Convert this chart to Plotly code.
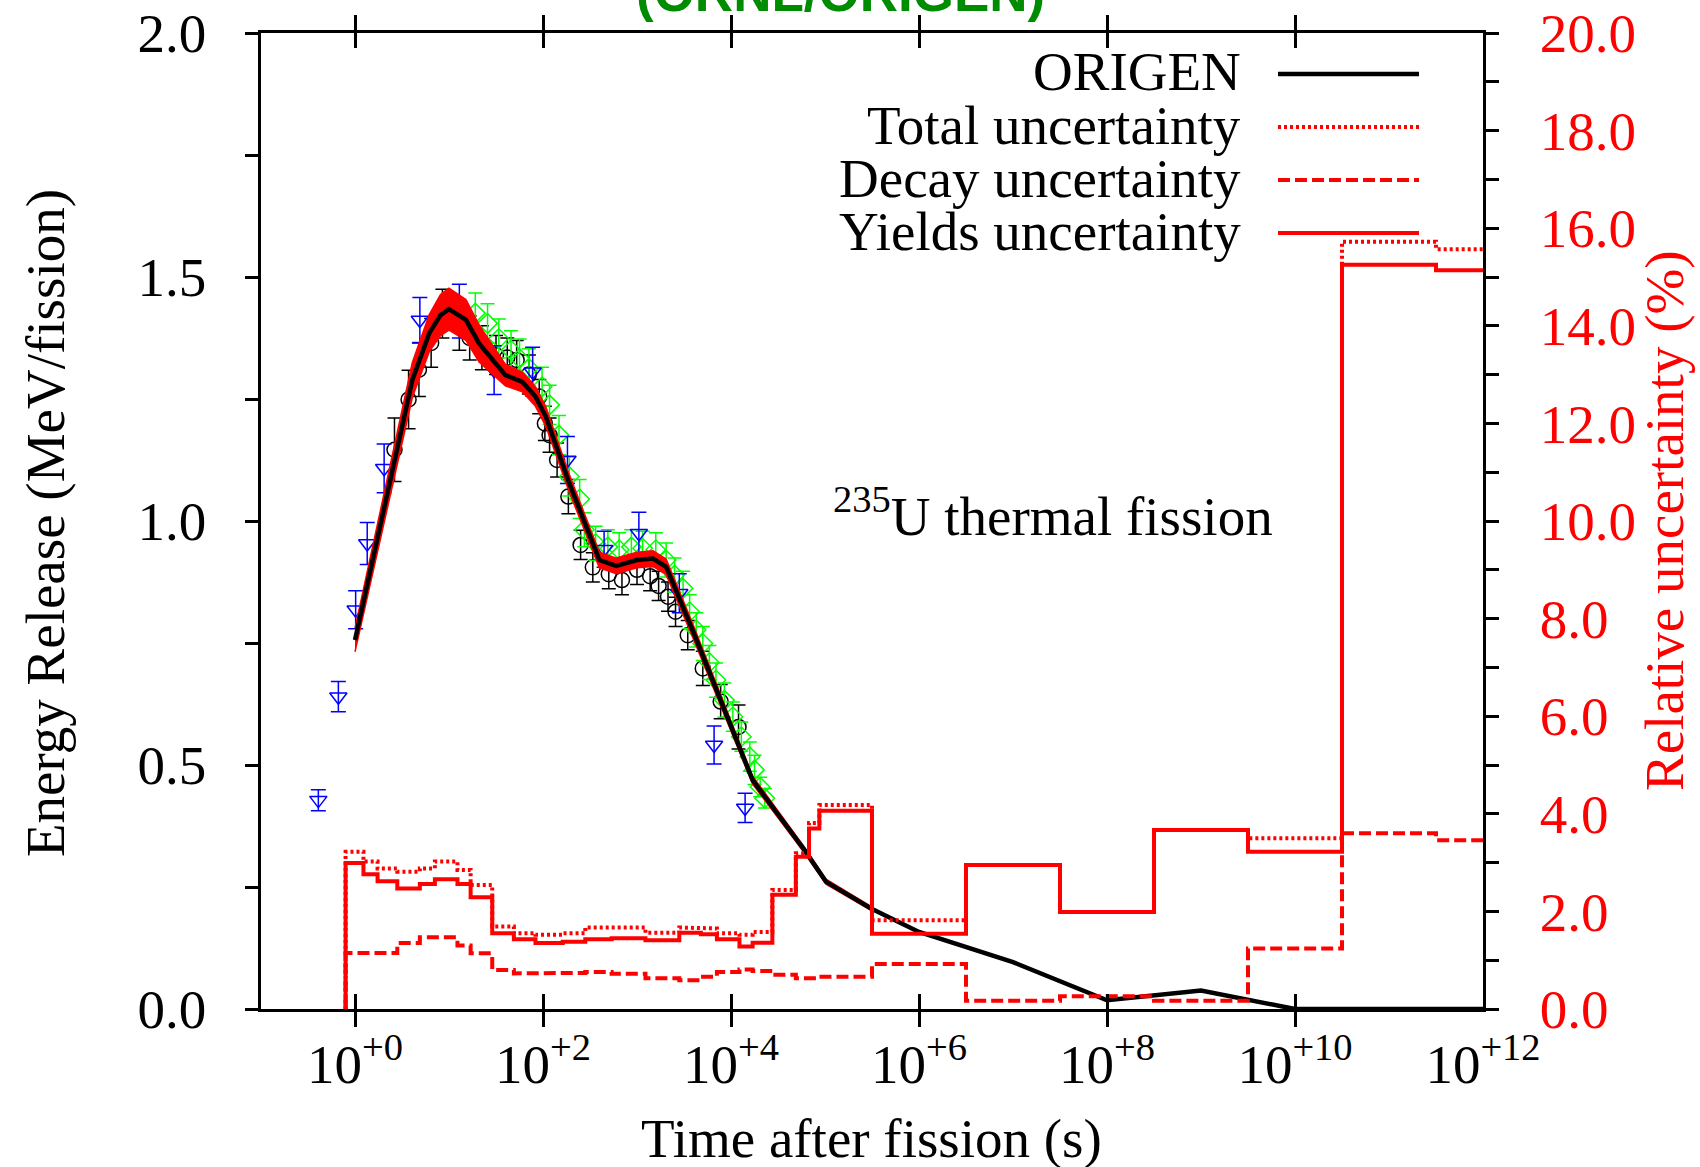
import numpy as np
import plotly.graph_objects as go

# ---------------- data (time given as log10 of seconds) ----------------
# ORIGEN calculation: energy release (MeV/fission)
origen_logt = [0.0, 0.61, 0.79, 0.91, 1.0, 1.18, 1.32, 1.60, 1.78, 1.92, 2.03, 2.28,
               2.60, 2.78, 3.0, 3.17, 3.31, 3.59, 4.23, 4.78, 5.01, 5.49, 6.0, 7.0,
               8.0, 9.0, 10.0, 11.0, 12.0]
origen_e = [0.756, 1.289, 1.385, 1.422, 1.434, 1.412, 1.364, 1.299, 1.285, 1.255, 1.214, 1.077,
            0.920, 0.908, 0.920, 0.923, 0.906, 0.777, 0.469, 0.326, 0.261, 0.206, 0.158, 0.096,
            0.018, 0.038, 0.0, 0.0, 0.0]
# half width of the red uncertainty band around the ORIGEN curve (first points only)
band_halfwidth = [0.024, 0.036, 0.038, 0.042, 0.043, 0.042, 0.038, 0.022, 0.020, 0.020, 0.020, 0.018,
                  0.016, 0.016, 0.016, 0.016, 0.016, 0.014, 0.008, 0.006, 0.005, 0.004]

# experimental data set 1 (black circles)
circ_logt = [0.42, 0.57, 0.68, 0.81, 0.93, 1.11, 1.22, 1.35, 1.50, 1.62, 1.72, 1.85, 1.96, 2.02,
             2.07, 2.15, 2.27, 2.40, 2.53, 2.70, 2.84, 3.00, 3.14, 3.23, 3.33, 3.41, 3.54, 3.70,
             3.89, 4.08]
circ_e = [1.146, 1.249, 1.310, 1.365, 1.425, 1.400, 1.375, 1.355, 1.340, 1.335, 1.330, 1.300, 1.255,
          1.200, 1.176, 1.125, 1.050, 0.951, 0.905, 0.891, 0.879, 0.900, 0.887, 0.867, 0.845, 0.814,
          0.766, 0.698, 0.630, 0.578]
circ_err = [0.065, 0.060, 0.055, 0.050, 0.050, 0.050, 0.045, 0.045, 0.040, 0.040, 0.040, 0.040, 0.035,
            0.035, 0.035, 0.035, 0.035, 0.030, 0.030, 0.030, 0.030, 0.030, 0.030, 0.030, 0.030, 0.030,
            0.030, 0.035, 0.035, 0.045]

# experimental data set 2 (green diamonds)
diam_logt = [1.28, 1.41, 1.53, 1.66, 1.75, 1.85, 1.99, 2.07, 2.17, 2.28, 2.39, 2.44, 2.56, 2.69,
             2.81, 2.94, 3.06, 3.20, 3.31, 3.40, 3.49, 3.56, 3.63, 3.70, 3.77, 3.84, 3.93, 4.02,
             4.11, 4.20, 4.25, 4.31, 4.36]
diam_e = [1.426, 1.405, 1.374, 1.350, 1.333, 1.313, 1.275, 1.238, 1.176, 1.091, 1.045, 0.982, 0.954,
          0.947, 0.941, 0.947, 0.944, 0.941, 0.920, 0.889, 0.862, 0.814, 0.777, 0.749, 0.710, 0.674,
          0.633, 0.599, 0.558, 0.517, 0.490, 0.455, 0.432]
diam_err = [0.041, 0.040, 0.040, 0.040, 0.040, 0.040, 0.040, 0.040, 0.040, 0.040, 0.040, 0.035, 0.035,
            0.035, 0.035, 0.035, 0.035, 0.035, 0.035, 0.035, 0.035, 0.035, 0.035, 0.035, 0.035, 0.035,
            0.035, 0.030, 0.030, 0.030, 0.030, 0.020, 0.020]

# experimental data set 3 (blue triangles)
tri_logt = [-0.39, -0.177, 0.007, 0.13, 0.31, 0.69, 1.11, 1.48, 1.89, 2.26, 2.65, 3.02, 3.45, 3.82, 4.15]
tri_e = [0.428, 0.640, 0.818, 0.954, 1.108, 1.412, 1.430, 1.309, 1.306, 1.125, 0.942, 0.975, 0.852,
         0.541, 0.412]
tri_err = [0.0215, 0.031, 0.039, 0.043, 0.050, 0.046, 0.055, 0.050, 0.050, 0.048, 0.037, 0.043, 0.040,
           0.039, 0.030]

# relative uncertainties (%), histogram bins in log10(t)
bin_edges_logt = [-0.10, 0.09, 0.24, 0.45, 0.69, 0.85, 1.09, 1.23, 1.46, 1.69, 1.92, 2.21, 2.45, 2.73,
                  3.09, 3.45, 3.68, 3.85, 4.09, 4.23, 4.44, 4.69, 4.83, 4.94, 5.50, 6.50, 7.50, 8.50,
                  9.50, 10.50, 11.50, 12.0]
yields_unc = [2.99, 2.76, 2.62, 2.47, 2.56, 2.66, 2.56, 2.29, 1.55, 1.43, 1.35, 1.38, 1.43, 1.45,
              1.41, 1.56, 1.53, 1.43, 1.28, 1.36, 2.34, 3.12, 3.70, 4.06, 1.54, 2.95, 1.99, 3.67,
              3.22, 15.25, 15.14]
total_unc = [3.22, 3.02, 2.88, 2.81, 2.88, 3.02, 2.85, 2.54, 1.69, 1.55, 1.52, 1.55, 1.67, 1.67,
             1.56, 1.67, 1.65, 1.55, 1.52, 1.58, 2.44, 3.19, 3.81, 4.18, 1.82, 2.95, 1.99, 3.67,
             3.50, 15.72, 15.57]
decay_unc = [1.15, 1.15, 1.15, 1.35, 1.47, 1.47, 1.30, 1.14, 0.80, 0.73, 0.73, 0.74, 0.76, 0.72,
             0.63, 0.59, 0.66, 0.76, 0.81, 0.78, 0.70, 0.63, 0.63, 0.66, 0.92, 0.17, 0.26, 0.17,
             1.24, 3.60, 3.46]

x_tick_exponents = [0, 2, 4, 6, 8, 10, 12]
x_tick_labels = ["10<sup>+%d</sup>" % e for e in x_tick_exponents]
y_tick_vals = [0.0, 0.5, 1.0, 1.5, 2.0]
y2_tick_vals = [0, 2, 4, 6, 8, 10, 12, 14, 16, 18, 20]

legend_labels = ["ORIGEN", "Total uncertainty", "Decay uncertainty", "Yields uncertainty"]

# ---------------- layout geometry ----------------
W, H = 1700, 1167
L, R, T, B = 261, 1483, 33, 1009


def px(x):
    return (x - L) / (R - L)


def py(y):
    return (B - y) / (B - T)


SERIF = "Liberation Serif"
FS = 55
RED = "#ff0000"


def tpow(lst):
    return [10.0 ** v for v in lst]


def step_xy(edges, vals):
    xs = [edges[0], edges[0]]
    ys = [0.0, vals[0]]
    for i in range(1, len(vals)):
        xs += [edges[i], edges[i]]
        ys += [vals[i - 1], vals[i]]
    xs.append(edges[-1])
    ys.append(vals[-1])
    return tpow(xs), ys


fig = go.Figure()

# experimental points
fig.add_trace(go.Scatter(
    x=tpow(circ_logt), y=circ_e, mode="markers",
    marker=dict(symbol="circle-open", size=15, color="black", line=dict(width=1.5)),
    error_y=dict(type="data", array=circ_err, color="black", thickness=1.5, width=7),
    showlegend=False))
fig.add_trace(go.Scatter(
    x=tpow(diam_logt), y=diam_e, mode="markers",
    marker=dict(symbol="diamond-open", size=15, color="#00ff00", line=dict(width=1.5)),
    error_y=dict(type="data", array=diam_err, color="#00ff00", thickness=1.5, width=7),
    showlegend=False))
fig.add_trace(go.Scatter(
    x=tpow(tri_logt), y=tri_e, mode="markers",
    marker=dict(symbol="triangle-down-open", size=15, color="#0000ff", line=dict(width=1.5)),
    error_y=dict(type="data", array=tri_err, color="#0000ff", thickness=1.5, width=7.5),
    showlegend=False))

# uncertainty band
nb = len(band_halfwidth)
bx = origen_logt[:nb]
upper = [origen_e[i] + band_halfwidth[i] for i in range(nb)]
lower = [origen_e[i] - band_halfwidth[i] for i in range(nb)]
fig.add_trace(go.Scatter(
    x=tpow(bx + bx[::-1]), y=upper + lower[::-1], mode="lines",
    fill="toself", fillcolor=RED, line=dict(width=1.5, color=RED), showlegend=False))

# ORIGEN line
fig.add_trace(go.Scatter(
    x=tpow(origen_logt), y=origen_e, mode="lines",
    line=dict(color="black", width=4.5), showlegend=False))

# uncertainty histograms (right axis)
for vals, dash in [(decay_unc, "12px,5px"), (total_unc, "3px,3px"), (yields_unc, "solid")]:
    sx, sy = step_xy(bin_edges_logt, vals)
    fig.add_trace(go.Scatter(
        x=sx, y=sy, mode="lines", yaxis="y2",
        line=dict(color=RED, width=4, dash=dash), showlegend=False))

# ---------------- axes ----------------
fig.update_layout(
    width=W, height=H, autosize=False,
    margin=dict(l=L, r=W - R, t=T, b=H - B, pad=0, autoexpand=False),
    paper_bgcolor="white", plot_bgcolor="white",
    showlegend=False,
    font=dict(family=SERIF, size=FS, color="black"),
    xaxis=dict(
        type="log", range=[-1, 12], automargin=False,
        tickvals=tpow(x_tick_exponents), ticktext=x_tick_labels,
        ticks="inside", ticklen=15, tickwidth=2.5, tickcolor="black",
        showline=True, linewidth=2.5, linecolor="black", mirror="allticks",
        showgrid=False, zeroline=False, ticklabelstandoff=5,
        tickfont=dict(family=SERIF, size=FS, color="black")),
    yaxis=dict(
        range=[0, 2.0], automargin=False,
        tickvals=y_tick_vals, ticktext=["%.1f" % v for v in y_tick_vals],
        ticks="outside", ticklen=13, tickwidth=2.5, tickcolor="black",
        minor=dict(dtick=0.25, ticks="outside", ticklen=13, tickwidth=2.5, tickcolor="black",
                   showgrid=False),
        showline=True, linewidth=2.5, linecolor="black",
        showgrid=False, zeroline=False, ticklabelstandoff=28,
        tickfont=dict(family=SERIF, size=FS, color="black")),
    yaxis2=dict(
        range=[0, 20], overlaying="y", side="right", automargin=False,
        tickvals=y2_tick_vals, ticktext=["%.1f" % v for v in y2_tick_vals],
        ticks="outside", ticklen=13, tickwidth=2.5, tickcolor="black",
        minor=dict(dtick=1, ticks="outside", ticklen=13, tickwidth=2.5, tickcolor="black",
                   showgrid=False),
        showline=True, linewidth=2.5, linecolor="black",
        showgrid=False, zeroline=False, ticklabelstandoff=30,
        tickfont=dict(family=SERIF, size=FS, color=RED)),
)

ann = []
ann.append(dict(text="<b>(ORNL/ORIGEN)</b>", x=px(840), y=py(24), xref="paper", yref="paper",
                xanchor="center", yanchor="bottom", showarrow=False,
                font=dict(family="Liberation Sans", size=53, color="rgb(0,140,0)")))
ann.append(dict(text="Time after fission (s)", x=px(871), y=py(1138), xref="paper", yref="paper",
                xanchor="center", yanchor="middle", showarrow=False,
                font=dict(family=SERIF, size=FS, color="black")))
ann.append(dict(text="Energy Release (MeV/fission)", x=px(45), y=py(523), xref="paper", yref="paper",
                xanchor="center", yanchor="middle", textangle=-90, showarrow=False,
                font=dict(family=SERIF, size=FS, color="black")))
ann.append(dict(text="Relative uncertainty (%)", x=px(1664), y=py(521), xref="paper", yref="paper",
                xanchor="center", yanchor="middle", textangle=-90, showarrow=False,
                font=dict(family=SERIF, size=FS, color=RED)))
ann.append(dict(text="<sup>235</sup>U thermal fission", x=px(1053), y=py(512), xref="paper", yref="paper",
                xanchor="center", yanchor="middle", showarrow=False,
                font=dict(family=SERIF, size=FS, color="black")))

legend_y = [74, 127, 180, 233]
legend_styles = [("black", "solid"), (RED, "3px,3px"), (RED, "12px,5px"), (RED, "solid")]
shapes = []
for lab, ly, (col, dash) in zip(legend_labels, legend_y, legend_styles):
    ann.append(dict(text=lab, x=px(1243), y=py(ly - 2), xref="paper", yref="paper",
                    xanchor="right", yanchor="middle", showarrow=False,
                    font=dict(family=SERIF, size=FS, color="black")))
    shapes.append(dict(type="line", xref="paper", yref="paper",
                       x0=px(1278), x1=px(1419), y0=py(ly), y1=py(ly),
                       line=dict(color=col, width=4.5 if col == "black" else 4, dash=dash)))

fig.update_layout(annotations=ann, shapes=shapes)

fig.write_html("out.html")
